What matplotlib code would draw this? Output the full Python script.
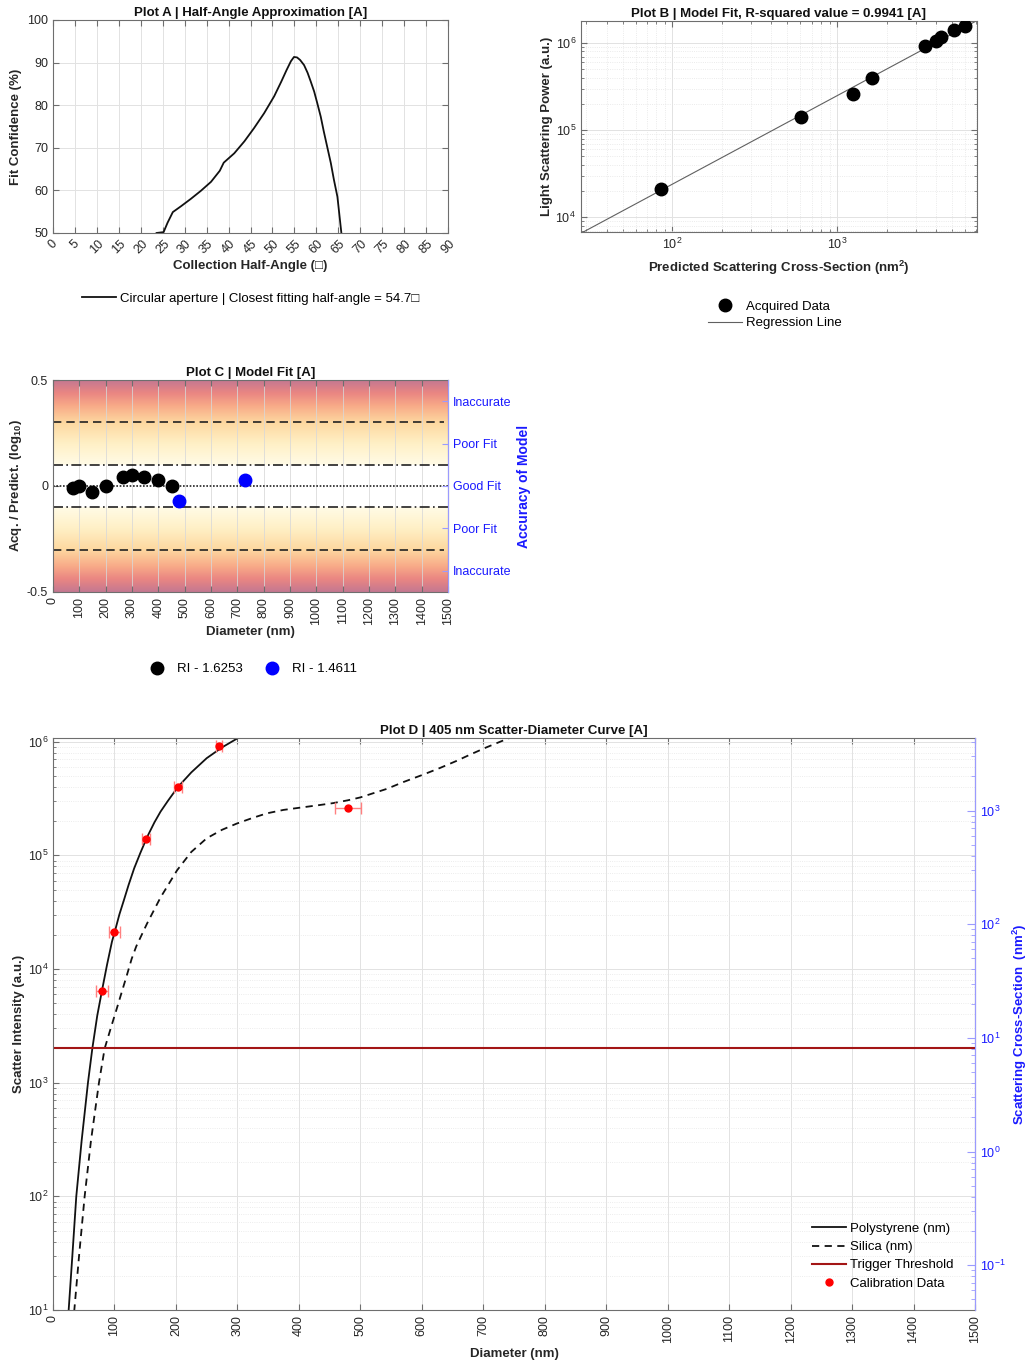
import numpy as np
import matplotlib
matplotlib.use("Agg")
import matplotlib.pyplot as plt
from matplotlib.colors import LinearSegmentedColormap
from matplotlib.lines import Line2D
from matplotlib.ticker import LogLocator, NullFormatter

plt.rcParams['font.family'] = ['Liberation Sans', 'DejaVu Sans']
plt.rcParams['mathtext.fontset'] = 'custom'
plt.rcParams['mathtext.rm'] = 'Liberation Sans'
plt.rcParams['mathtext.bf'] = 'Liberation Sans:bold'
plt.rcParams['mathtext.it'] = 'Liberation Sans:italic'

EDGE = '#6e6e6e'
TXT = '#262626'
BLUE = '#1a1aff'
GRID = '#e2e2e2'

# --- Plot A: fit confidence vs collection half-angle ---
ANGLE = [23.6, 25.2, 26.1, 27.3, 29.2, 31.4, 33.7, 36.0, 38.0, 38.9, 41.3, 43.6,
         45.8, 48.1, 50.4, 52.0, 53.2, 54.2, 54.9, 55.6, 56.3, 57.2, 58.0, 58.7,
         59.5, 60.2, 61.0, 61.7, 62.5, 63.3, 64.0, 64.8, 65.7]
CONF = [50.0, 50.2, 52.4, 54.9, 56.3, 58.0, 59.9, 62.0, 64.6, 66.5, 68.7, 71.5,
        74.6, 78.1, 82.1, 85.5, 88.2, 90.3, 91.3, 91.2, 90.6, 89.4, 87.6, 85.6,
        83.2, 80.5, 77.3, 73.8, 70.1, 66.4, 62.5, 58.5, 50.0]
BEST_ANGLE = 54.7

# --- Plot B: acquired vs predicted scattering ---
PRED_CS = [86, 608, 1257, 1628, 3396, 4000, 4266, 5140, 5945]
ACQ_POWER = [2.1e4, 1.4e5, 2.6e5, 4.0e5, 9.2e5, 1.05e6, 1.17e6, 1.41e6, 1.56e6]
R_SQUARED = 0.9941
REG_SLOPE = 1.017
REG_LOG_INTERCEPT = 2.344   # log10(power) at log10(cs) = 0

# --- Plot C: model residuals ---
PS_RES_D = [76, 98, 148, 200, 265, 300, 345, 398, 451]
PS_RES = [-0.010, 0.001, -0.026, -0.001, 0.044, 0.051, 0.043, 0.027, 0.001]
SI_RES_D = [478, 728]
SI_RES = [-0.072, 0.030]
RI_PS = 1.6253
RI_SI = 1.4611
ACC_TICKS = [-0.4, -0.2, 0, 0.2, 0.4]
ACC_LABELS = ['Inaccurate', 'Poor Fit', 'Good Fit', 'Poor Fit', 'Inaccurate']

# --- Plot D: scatter-diameter curves ---
PS_D = [22, 25.5, 31.4, 37.9, 46.6, 56.9, 64, 72, 79.7, 88, 95.9, 100.6, 108, 115,
        123, 132, 142, 153, 165, 175, 187, 203, 225, 250, 275, 297, 310]
PS_I = [5.5, 10, 29.5, 100, 309, 1000, 2000, 3890, 6460, 10960, 17380, 21380, 30200,
        39800, 54950, 76740, 104700, 144500, 195000, 242700, 302000, 398100, 537000,
        716100, 891300, 1047000, 1148000]
SI_D = [30, 34.7, 42.3, 51.5, 61.8, 74.8, 84, 94, 104, 112, 120.3, 128, 135.5, 153,
        175, 202, 225, 250, 275, 299, 325, 348, 375, 402, 430, 456, 480, 500, 520,
        543, 570, 602, 630, 656, 680, 705, 732, 760]
SI_I = [4.5, 10, 29.5, 100, 309, 1000, 1995, 3020, 4530, 6310, 8870, 12300, 15850,
        25120, 42660, 74130, 107200, 141300, 167900, 190500, 213800, 234400, 251200,
        263000, 275400, 288400, 305500, 323600, 350800, 384600, 441600, 512900,
        588800, 676100, 776200, 891300, 1023000, 1175000]
CAL_D = [80, 100, 151.5, 203.5, 269.5, 480]
CAL_I = [6.4e3, 2.1e4, 1.38e5, 4.0e5, 9.2e5, 2.62e5]
CAL_DERR = [9.5, 8.5, 6, 6, 5, 20.5]
THRESHOLD = 2000
CS_FACTOR = 248.0   # intensity units per nm^2


def style_axes(ax, right=True):
    for s in ax.spines.values():
        s.set_color(EDGE)
        s.set_linewidth(0.8)
    ax.tick_params(which='both', direction='in', top=True, right=right,
                   colors=EDGE, labelcolor=TXT, labelsize=9)
    ax.tick_params(which='major', length=4)
    ax.tick_params(which='minor', length=2)


fig = plt.figure(figsize=(10.29, 13.64), dpi=100)

# ---------------- Plot A ----------------
axA = fig.add_axes([0.0515, 0.8292, 0.3839, 0.1562])
style_axes(axA)
axA.plot(ANGLE, CONF, color='#111111', lw=1.3,
         label='Circular aperture | Closest fitting half-angle = %.1f\u25a1' % BEST_ANGLE)
axA.set_xlim(0, 90)
axA.set_ylim(50, 100)
axA.set_xticks(np.arange(0, 91, 5))
axA.set_yticks(np.arange(50, 101, 10))
axA.tick_params(axis='x', labelrotation=45)
for lab in axA.get_xticklabels():
    lab.set_ha('center')
axA.grid(True, color=GRID, lw=0.7)
axA.set_axisbelow(True)
axA.set_title('Plot A | Half-Angle Approximation [A]', fontsize=9.5,
              fontweight='bold', color='#111111', pad=3)
axA.set_xlabel('Collection Half-Angle (\u25a1)', fontsize=9.5, fontweight='bold',
               color=TXT, labelpad=3)
axA.set_ylabel('Fit Confidence (%)', fontsize=9.5, fontweight='bold', color=TXT,
               labelpad=4)
axA.legend(loc='upper center', bbox_to_anchor=(0.5, -0.225), frameon=False,
           fontsize=9.5, handlelength=2.6, handletextpad=0.3)

# ---------------- Plot B ----------------
axB = fig.add_axes([0.5646, 0.8299, 0.3848, 0.1547])
style_axes(axB)
axB.set_xscale('log')
axB.set_yscale('log')
axB.set_xlim(28, 7050)
axB.set_ylim(6760, 1.79e6)
xr = np.array(axB.get_xlim())
axB.plot(xr, 10 ** (REG_LOG_INTERCEPT + REG_SLOPE * np.log10(xr)), color='#606060',
         lw=0.8, zorder=2)
axB.plot(PRED_CS, ACQ_POWER, 'o', color='black', ms=9, zorder=3)
axB.grid(True, which='major', color=GRID, lw=0.7)
axB.grid(True, which='minor', color='#e4e4e4', lw=0.6, ls=':')
axB.set_axisbelow(True)
axB.set_title('Plot B | Model Fit, R-squared value = %.4f [A]' % R_SQUARED,
              fontsize=9.5, fontweight='bold', color='#111111', pad=3)
axB.set_xlabel(r'Predicted Scattering Cross-Section (nm$^{\mathbf{2}}$)', fontsize=9.5,
               fontweight='bold', color=TXT, labelpad=5)
axB.set_ylabel('Light Scattering Power (a.u.)', fontsize=9.5, fontweight='bold',
               color=TXT, labelpad=2)
hB = [Line2D([], [], ls='none', marker='o', color='black', ms=9),
      Line2D([], [], color='#606060', lw=0.8)]
axB.legend(hB, ['Acquired Data', 'Regression Line'], loc='upper center',
           bbox_to_anchor=(0.49, -0.27), frameon=False, fontsize=9.5,
           handlelength=2.6, handletextpad=0.3, labelspacing=0.3)

# ---------------- Plot C ----------------
axC = fig.add_axes([0.0515, 0.5660, 0.3839, 0.1554])
style_axes(axC, right=False)
band = LinearSegmentedColormap.from_list(
    'band', [(0.0, '#ffffff'), (0.1999, '#ffffff'), (0.2, '#fffbe6'),
             (0.4, '#fff0c6'), (0.6, '#fdd8a0'), (0.76, '#f8aa88'),
             (0.88, '#ea8682'), (1.0, '#c57891')])
yy = np.linspace(-0.5, 0.5, 400)
axC.imshow(np.abs(yy)[:, None] * 2, cmap=band, vmin=0, vmax=1, aspect='auto',
           extent=[0, 1500, -0.5, 0.5], origin='lower', zorder=0)
axC.set_xlim(0, 1500)
axC.set_ylim(-0.5, 0.5)
for lvl in (0.3, -0.3):
    axC.axhline(lvl, xmax=0.99, color='#222222', lw=1.2, ls=(0, (5, 3)), zorder=2)
for lvl in (0.1, -0.1):
    axC.axhline(lvl, color='#222222', lw=1.2, ls=(0, (6, 2, 1, 2)), zorder=2)
axC.axhline(0, color='#222222', lw=1.2, ls=(0, (1, 1)), zorder=2)
axC.plot(PS_RES_D, PS_RES, 'o', color='black', ms=9, zorder=4,
         label='RI - %.4f' % RI_PS)
axC.plot(SI_RES_D, SI_RES, 'o', color='#0000ff', ms=9, zorder=4,
         label='RI - %.4f' % RI_SI)
axC.set_xticks(np.arange(0, 1501, 100))
axC.set_yticks([-0.5, 0, 0.5])
axC.set_yticklabels(['-0.5', '0', '0.5'])
axC.tick_params(axis='x', labelrotation=90)
axC.grid(True, axis='x', color='#d8d8d8', lw=0.7, alpha=0.8, zorder=1)
axC.set_title('Plot C | Model Fit [A]', fontsize=9.5, fontweight='bold',
              color='#111111', pad=3)
axC.set_xlabel('Diameter (nm)', fontsize=9.5, fontweight='bold', color=TXT,
               labelpad=1)
axC.set_ylabel(r'Acq. / Predict. (log$_{\mathbf{10}}$)', fontsize=9.5,
               fontweight='bold', color=TXT, labelpad=2)
axC.legend(loc='upper center', bbox_to_anchor=(0.5, -0.28), ncol=2, frameon=False,
           fontsize=9.5, handletextpad=0.5, columnspacing=1.2)
axC2 = axC.twinx()
axC2.set_ylim(-0.5, 0.5)
axC2.set_yticks(ACC_TICKS)
axC2.set_yticklabels(ACC_LABELS)
axC2.tick_params(axis='y', direction='in', colors='#9a9aff', labelcolor=BLUE,
                 labelsize=9, length=4)
for k in ('left', 'top', 'bottom'):
    axC2.spines[k].set_visible(False)
axC2.spines['right'].set_color('#9a9aff')
axC2.set_ylabel('Accuracy of Model', fontsize=10, fontweight='bold', color=BLUE,
                labelpad=4)

# ---------------- Plot D ----------------
axD = fig.add_axes([0.0515, 0.0396, 0.8960, 0.4194])
style_axes(axD, right=False)
axD.set_yscale('log')
axD.set_xlim(0, 1500)
axD.set_ylim(10, 1.08e6)
axD.plot(PS_D, PS_I, color='#111111', lw=1.3, label='Polystyrene (nm)')
axD.plot(SI_D, SI_I, color='#111111', lw=1.3, ls=(0, (4, 3)), label='Silica (nm)')
axD.axhline(THRESHOLD, color='#a31515', lw=1.5, label='Trigger Threshold')
axD.errorbar(CAL_D, CAL_I, xerr=CAL_DERR, fmt='none', ecolor='#ff8080', elinewidth=1,
             capsize=4, capthick=1, zorder=3)
axD.plot(CAL_D, CAL_I, 'o', color='#ff0000', ms=5, ls='none', zorder=4,
         label='Calibration Data')
axD.set_xticks(np.arange(0, 1501, 100))
axD.tick_params(axis='x', labelrotation=90)
axD.yaxis.set_major_locator(LogLocator(base=10, numticks=10))
axD.yaxis.set_minor_locator(LogLocator(base=10, subs=np.arange(2, 10), numticks=20))
axD.yaxis.set_minor_formatter(NullFormatter())
axD.grid(True, which='major', color=GRID, lw=0.7)
axD.grid(True, which='minor', axis='y', color='#e6e6e6', lw=0.6, ls=':')
axD.set_axisbelow(True)
axD.set_title('Plot D | 405 nm Scatter-Diameter Curve [A]', fontsize=9.5,
              fontweight='bold', color='#111111', pad=3)
axD.set_xlabel('Diameter (nm)', fontsize=9.5, fontweight='bold', color=TXT,
               labelpad=4)
axD.set_ylabel('Scatter Intensity (a.u.)', fontsize=9.5, fontweight='bold',
               color=TXT, labelpad=2)
axD.legend(loc='lower right', bbox_to_anchor=(0.99, 0.015), frameon=False,
           fontsize=9.5, handlelength=2.6, handletextpad=0.3, labelspacing=0.45)

axD2 = axD.twinx()
axD2.set_yscale('log')
lo, hi = axD.get_ylim()
axD2.set_ylim(lo / CS_FACTOR, hi / CS_FACTOR)
axD2.yaxis.set_major_locator(LogLocator(base=10, numticks=10))
axD2.yaxis.set_minor_locator(LogLocator(base=10, subs=np.arange(2, 10), numticks=20))
axD2.yaxis.set_minor_formatter(NullFormatter())
axD2.tick_params(which='both', direction='in', colors='#9a9aff', labelcolor=BLUE,
                 labelsize=9)
axD2.tick_params(which='major', length=6)
axD2.tick_params(which='minor', length=3)
for k in ('left', 'top', 'bottom'):
    axD2.spines[k].set_visible(False)
axD2.spines['right'].set_color('#9a9aff')
axD2.set_ylabel(r'Scattering Cross-Section  (nm$^{\mathbf{2}}$)', fontsize=9.5,
                fontweight='bold', color=BLUE, labelpad=4)

fig.savefig('out.png', dpi=100)
